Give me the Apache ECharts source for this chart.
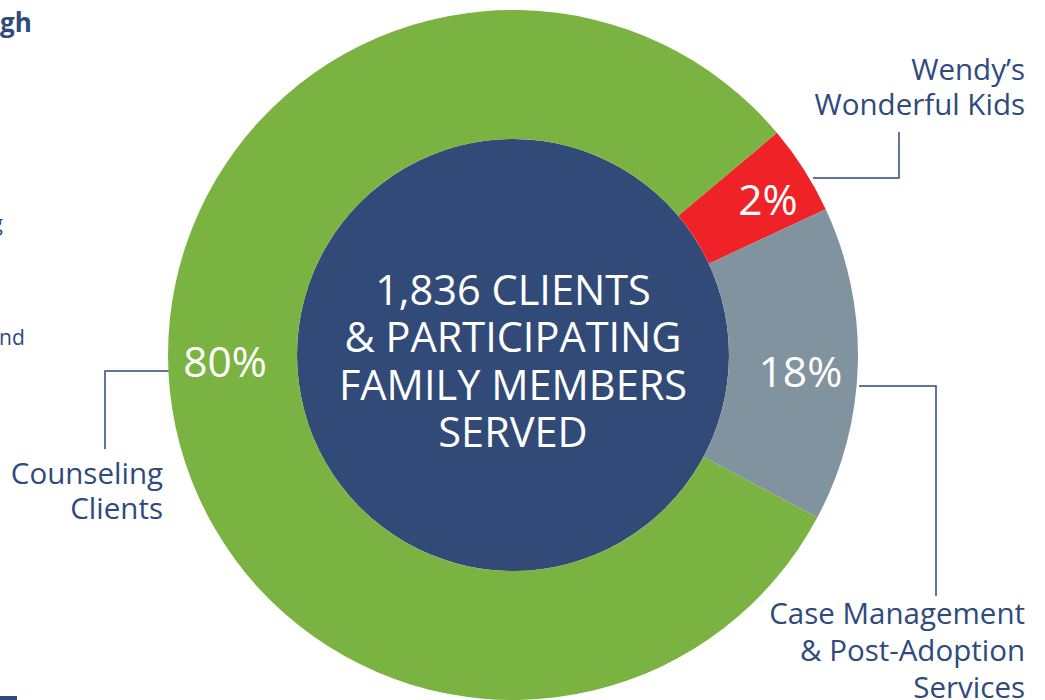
<!DOCTYPE html>
<html>
<head>
	<meta http-equiv="Content-Type" content="text/html;charset=utf-8" />
	<title>Clients served</title>
	<script src="https://cdn.jsdelivr.net/npm/echarts@6.0.0/dist/echarts.min.js"></script>
	<style>
		body { margin: 0; background: #fff; }
	</style>
</head>
<body>
	<div id="donut" style="width:1045px; height:700px;"></div>
	<script>
		// slices, clockwise starting from the red one (upper right)
		var categories = ['Wendy’s Wonderful Kids', 'Case Management & Post-Adoption Services', 'Counseling Clients'];
		var shares = [4.2, 14.75, 81.05]; // arc share as drawn in the picture
		var pctLabels = ['2%', '18%', '80%']; // printed percentages
		var colors = ['#ee2227', '#8293a0', '#7bb342'];
		var centerLines = ['1,836 CLIENTS', '& PARTICIPATING', 'FAMILY MEMBERS', 'SERVED'];

		var navy = '#324a78';
		var textNavy = '#2f4a7c';
		var cx = 513, cy = 355;

		// nudges so the percentages sit where the original put them
		var labelShift = [[16, -4], [4, 8], [-6, -24]];

		var option = {
			animation: false,
			series: [
				{
					type: 'pie',
					center: [cx, cy],
					radius: [0, 216],
					silent: true,
					z: 1,
					label: {
						show: true, position: 'center', color: '#fff',
						fontFamily: 'Open Sans', fontSize: 41.5, lineHeight: 47.5,
						formatter: function(){ return centerLines.join('\n'); }
					},
					labelLayout: function(){ return { dy: 5 }; },
					labelLine: { show: false },
					itemStyle: { color: navy },
					emphasis: { disabled: true },
					data: [{ value: 1, name: 'served' }]
				},
				{
					type: 'pie',
					center: [cx, cy],
					radius: [216, 345],
					startAngle: 40.1,
					clockwise: true,
					silent: true,
					avoidLabelOverlap: false,
					z: 2,
					label: {
						show: true, position: 'inside', color: '#fff',
						fontFamily: 'Open Sans', fontSize: 42.5,
						formatter: function(p){ return pctLabels[p.dataIndex]; }
					},
					labelLine: { show: false },
					labelLayout: function(p){
						return { dx: labelShift[p.dataIndex][0], dy: labelShift[p.dataIndex][1] };
					},
					itemStyle: { borderWidth: 0 },
					emphasis: { disabled: true },
					data: categories.map(function(c, i){
						return { name: c, value: shares[i], itemStyle: { color: colors[i] } };
					})
				}
			],
			graphic: [
				// leader lines
				{ type: 'polyline', shape: { points: [[813, 178], [899, 178], [899, 132]] }, style: { stroke: textNavy, lineWidth: 1.5, fill: null } },
				{ type: 'polyline', shape: { points: [[859, 386], [936, 386], [936, 596]] }, style: { stroke: textNavy, lineWidth: 1.5, fill: null } },
				{ type: 'polyline', shape: { points: [[170, 371], [105, 371], [105, 449]] }, style: { stroke: textNavy, lineWidth: 1.5, fill: null } },
				// category names
				{ type: 'text', style: { text: 'Wendy’s\nWonderful Kids', x: 1025, y: 86, align: 'right', verticalAlign: 'middle', fill: textNavy, font: '29.5px "Open Sans"', lineHeight: 35 } },
				{ type: 'text', style: { text: 'Case Management\n& Post-Adoption\nServices', x: 1025, y: 649, align: 'right', verticalAlign: 'middle', fill: textNavy, font: '29.5px "Open Sans"', lineHeight: 37 } },
				{ type: 'text', style: { text: 'Counseling\nClients', x: 163, y: 490, align: 'right', verticalAlign: 'middle', fill: textNavy, font: '29.5px "Open Sans"', lineHeight: 35 } },
				// bits of the neighbouring column, cut off at the left edge
				{ type: 'text', style: { text: 'gh', x: 0, y: 9, verticalAlign: 'top', fill: textNavy, font: 'bold 26px "Open Sans"' } },
				{ type: 'text', style: { text: 'g', x: 3, y: 212, align: 'right', verticalAlign: 'top', fill: textNavy, font: '21px "Open Sans"' } },
				{ type: 'text', style: { text: 'nd', x: -1, y: 326, verticalAlign: 'top', fill: textNavy, font: '21px "Open Sans"' } },
				{ type: 'rect', shape: { x: 0, y: 696, width: 17, height: 4 }, style: { fill: textNavy } }
			]
		};

		var chart = echarts.init(document.getElementById('donut'), null, { renderer: 'svg' });
		chart.setOption(option);
	</script>
</body>
</html>
